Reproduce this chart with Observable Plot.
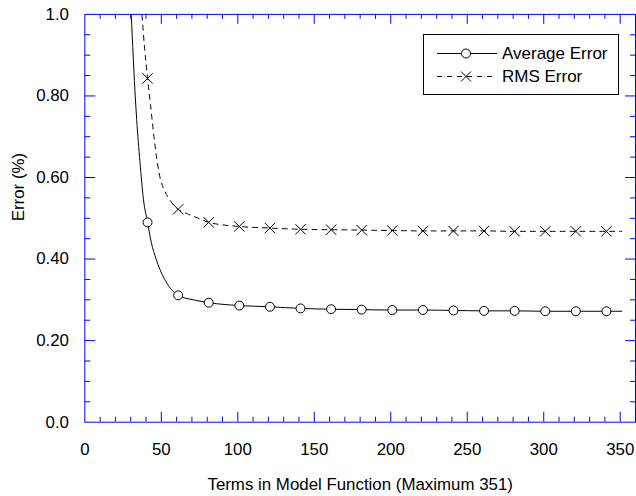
<!DOCTYPE html>
<html><head><meta charset="utf-8">
<script src="https://cdn.jsdelivr.net/npm/d3@7"></script>
<script src="https://cdn.jsdelivr.net/npm/@observablehq/plot@0.6"></script>
<style>
html,body{margin:0;padding:0;background:#fff;overflow:hidden}
#wrap{position:relative;width:636px;height:496px;overflow:hidden;font-family:"Liberation Sans",Arial,Helvetica,sans-serif}
#legend{position:absolute;left:0;top:0}
</style></head><body><div id="wrap"></div>
<script>
// ---- data ----
const markerTerms = [41, 61, 81, 101, 121, 141, 161, 181, 201, 221, 241, 261, 281, 301, 321, 341];
const avgMarkers = [0.490, 0.311, 0.293, 0.286, 0.283, 0.279, 0.277, 0.276, 0.275, 0.275, 0.274, 0.273, 0.273, 0.272, 0.272, 0.272];
const rmsMarkers = [0.843, 0.522, 0.490, 0.480, 0.476, 0.473, 0.472, 0.471, 0.470, 0.469, 0.469, 0.469, 0.468, 0.468, 0.468, 0.468];

const avgLineTerms = [29.5, 30.3, 33.1, 33.9, 36, 38.3, 41, 43.5, 46.5, 51.9, 56, 61, 71, 81, 101, 121, 141, 161, 181, 201, 221, 241, 261, 281, 301, 321, 341, 351];
const avgLineVals  = [1.06, 1.0, 0.79, 0.742, 0.64, 0.547, 0.490, 0.44, 0.401, 0.352, 0.328, 0.311, 0.300, 0.293, 0.286, 0.283, 0.279, 0.277, 0.276, 0.275, 0.275, 0.274, 0.273, 0.273, 0.272, 0.272, 0.272, 0.272];

const rmsLineTerms = [35.5, 37.3, 39, 41, 42.9, 46.2, 49.4, 51.6, 55.9, 61, 67, 75, 81, 101, 121, 141, 161, 181, 201, 221, 241, 261, 281, 301, 321, 341, 351];
const rmsLineVals  = [1.07, 1.0, 0.92, 0.843, 0.779, 0.669, 0.596, 0.572, 0.543, 0.522, 0.511, 0.499, 0.490, 0.480, 0.476, 0.473, 0.472, 0.471, 0.470, 0.469, 0.469, 0.469, 0.468, 0.468, 0.468, 0.468, 0.468];

const xTickValues = [0, 50, 100, 150, 200, 250, 300, 350];
const xTickLabels = ["0", "50", "100", "150", "200", "250", "300", "350"];
const yTickValues = [0, 0.2, 0.4, 0.6, 0.8, 1.0];
const yTickLabels = ["0.0", "0.20", "0.40", "0.60", "0.80", "1.0"];
const xMajorTicks = [50, 100, 150, 200, 250, 300, 350];
const xMinorTicks = d3.range(10, 360, 10).filter(v => v % 50 !== 0);
const yMajorTicks = [0.2, 0.4, 0.6, 0.8];
const yMinorTicks = d3.range(1, 20).map(i => i * 0.05).filter((v, i) => (i + 1) % 4 !== 0);

const seriesNames = ["Average Error", "RMS Error"];
const xLabel = "Terms in Model Function (Maximum 351)";
const yLabel = "Error (%)";

// ---- layout ----
const W = 641, H = 496, mL = 85, mR = 1, mT = 14, mB = 71;
const plotH = H - mT - mB, plotW = W - mL - mR;
const FRAME = "#0000ff";
const FONT = '"Liberation Sans", Arial, Helvetica, sans-serif';

const avgLine = avgLineTerms.map((t, i) => ({t, v: avgLineVals[i]}));
const rmsLine = rmsLineTerms.map((t, i) => ({t, v: rmsLineVals[i]}));
const avgPts = markerTerms.map((t, i) => ({t, v: avgMarkers[i]}));
const rmsPts = markerTerms.map((t, i) => ({t, v: rmsMarkers[i]}));

const chart = Plot.plot({
  width: W, height: H,
  marginLeft: mL, marginRight: mR, marginTop: mT, marginBottom: mB,
  style: {fontSize: "17px", fontFamily: FONT, background: "white", color: "black", overflow: "visible"},
  x: {domain: [0, 360]},
  y: {domain: [0, 1]},
  marks: [
    Plot.line(rmsLine, {x: "t", y: "v", stroke: "black", strokeWidth: 1, strokeDasharray: "5,5", curve: "monotone-x", clip: true}),
    Plot.line(avgLine, {x: "t", y: "v", stroke: "black", strokeWidth: 1, curve: "monotone-x", clip: true}),
    Plot.dot(rmsPts, {x: "t", y: "v", symbol: "times", r: 4.8, stroke: "black", strokeWidth: 1}),
    Plot.dot(avgPts, {x: "t", y: "v", symbol: "circle", r: 4.5, stroke: "black", fill: "white", strokeWidth: 1}),
    // inward ticks
    Plot.tickX(xMinorTicks, {x: d => d, stroke: FRAME, insetTop: plotH - 5}),
    Plot.tickX(xMajorTicks, {x: d => d, stroke: FRAME, insetTop: plotH - 10}),
    Plot.tickX(xMinorTicks, {x: d => d, stroke: FRAME, insetBottom: plotH - 5}),
    Plot.tickX(xMajorTicks, {x: d => d, stroke: FRAME, insetBottom: plotH - 10}),
    Plot.tickY(yMinorTicks, {y: d => d, stroke: FRAME, insetRight: plotW - 6}),
    Plot.tickY(yMajorTicks, {y: d => d, stroke: FRAME, insetRight: plotW - 11}),
    Plot.tickY(yMinorTicks, {y: d => d, stroke: FRAME, insetLeft: plotW - 5}),
    Plot.tickY(yMajorTicks, {y: d => d, stroke: FRAME, insetLeft: plotW - 10}),
    Plot.axisX(xTickValues, {tickSize: 0, tickPadding: 21, label: null, tickFormat: d => xTickLabels[xTickValues.indexOf(d)]}),
    Plot.axisY(yTickValues, {tickSize: 0, tickPadding: 16, label: null, tickFormat: d => yTickLabels[yTickValues.indexOf(d)]}),
    Plot.frame({stroke: FRAME, strokeWidth: 1}),
    Plot.text([xLabel], {frameAnchor: "bottom", dy: 63, lineAnchor: "middle", fill: "black"}),
    Plot.text([yLabel], {frameAnchor: "left", dx: -67, dy: 3, rotate: -90, fill: "black"})
  ]
});
const wrap = document.getElementById("wrap");
wrap.appendChild(chart);

// legend (inside plot, upper right)
const lg = d3.create("svg").attr("id", "legend").attr("width", 636).attr("height", 120)
  .style("font-family", FONT).style("font-size", "17px");
lg.append("rect").attr("x", 423.5).attr("y", 34.5).attr("width", 195).attr("height", 60)
  .attr("fill", "white").attr("stroke", "black").attr("stroke-width", 1);
const rows = [
  {name: seriesNames[0], y: 53.5, dash: null, sym: "circle"},
  {name: seriesNames[1], y: 76.5, dash: "5,5", sym: "times"}
];
for (const r of rows) {
  lg.append("line").attr("x1", 437).attr("x2", 497).attr("y1", r.y).attr("y2", r.y)
    .attr("stroke", "black").attr("stroke-width", 1).attr("stroke-dasharray", r.dash);
  if (r.sym === "circle") {
    lg.append("circle").attr("cx", 466).attr("cy", r.y).attr("r", 4.5).attr("fill", "white").attr("stroke", "black");
  } else {
    lg.append("path").attr("d", `M${466-5},${r.y-5}L${466+5},${r.y+5}M${466-5},${r.y+5}L${466+5},${r.y-5}`)
      .attr("stroke", "black").attr("fill", "none");
  }
  lg.append("text").attr("x", 502).attr("y", r.y).attr("dy", "0.35em").text(r.name);
}
wrap.appendChild(lg.node());
</script></body></html>
